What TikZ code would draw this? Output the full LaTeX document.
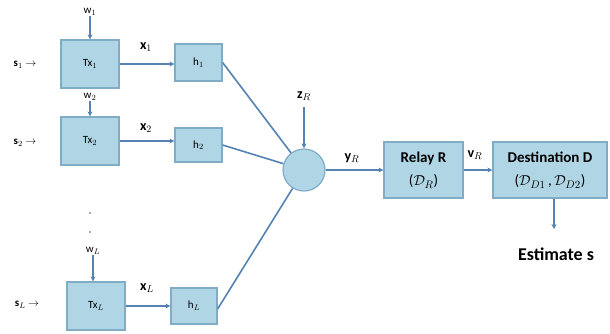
\documentclass[tikz,border=0pt]{standalone}
\usepackage{fontspec}
\setmainfont{Carlito}
\usetikzlibrary{arrows.meta}
\definecolor{boxfill}{RGB}{176,214,230}
\definecolor{boxedge}{RGB}{128,172,198}
\definecolor{wire}{RGB}{84,130,178}
\begin{document}
\begin{tikzpicture}[x=1pt,y=-1pt,
  blk/.style={draw=boxedge,fill=boxfill,line width=1.2pt,inner sep=0pt,font=\fontsize{11}{12}\selectfont},
  sumnode/.style={draw=boxedge,fill=boxfill,circle,line width=1.2pt,minimum size=42pt,inner sep=0pt},
  wireline/.style={draw=wire,line width=1.6pt},
  arr/.style={wireline,-{Stealth[length=5pt,width=5pt]}},
  lbl/.style={font=\fontsize{11}{12}\selectfont,inner sep=0pt},
  siglbl/.style={font=\fontsize{14}{15}\selectfont,inner sep=0pt},
  inlbl/.style={font=\fontsize{11}{12}\selectfont,inner sep=0pt}]
\useasboundingbox (0,0) rectangle (610,333);

% transmitters and channels
\node[blk,minimum width=58pt,minimum height=48pt] (tx1) at (90,64) {Tx$_1$};
\node[blk,minimum width=47pt,minimum height=37pt] (h1) at (198.5,62.5) {h$_1$};
\node[blk,minimum width=58pt,minimum height=48pt] (tx2) at (90,141) {Tx$_2$};
\node[blk,minimum width=47pt,minimum height=34pt] (h2) at (198.5,145) {h$_2$};
\node[blk,minimum width=58pt,minimum height=48pt] (txl) at (96,306) {Tx$_L$};
\node[blk,minimum width=46pt,minimum height=36pt] (hl) at (194,306) {h$_L$};

% inputs
\node[inlbl] (s1) at (25,65) {\textbf{s}$_1$ $\rightarrow$};
\node[inlbl] (s2) at (25,143) {\textbf{s}$_2$ $\rightarrow$};
\node[inlbl] (sl) at (27,305) {\textbf{s}$_L$ $\rightarrow$};

% noise terms
\node[lbl] (w1) at (90,12) {w$_1$};
\node[lbl] (w2) at (90,97) {w$_2$};
\node[lbl] (wl) at (93,251) {w$_L$};
\draw[arr] (w1.south) -- (tx1.north -| w1.south);
\draw[arr] (w2.south) -- (tx2.north -| w2.south);
\draw[arr] (wl.south) -- (txl.north -| wl.south);

% vertical dots
\node[circle,fill=black!45,inner sep=0.8pt] (d1) at (90,213) {};
\node[circle,fill=black!45,inner sep=0.8pt] (d2) at (90,232) {};

% transmitted signals
\draw[arr] (tx1.east) -- (h1.west |- tx1.east);
\node[siglbl] (x1) at (146,47) {$\mathbf{x}_1$};
\draw[arr] (tx2.east) -- (h2.west |- tx2.east);
\node[siglbl] (x2) at (146,128) {$\mathbf{x}_2$};
\draw[arr] (txl.east) -- (hl.west |- txl.east);
\node[siglbl] (xl) at (147,288) {$\mathbf{x}_L$};

% superposition at the relay
\node[sumnode] (sum) at (304,170) {};
\draw[wireline] (h1.east) -- (sum);
\draw[wireline] (h2.east) -- (sum);
\draw[wireline] ([yshift=-3pt]hl.east) -- (sum);
\node[siglbl] (zr) at (304,96) {$\mathbf{z}_R$};
\draw[arr] ([yshift=-6pt]zr.south) -- (sum.north);

% relay and destination
\node[blk,minimum width=79pt,minimum height=56pt,align=center,font=\fontsize{15}{23}\selectfont] (relay) at (423.5,170) {\textbf{Relay R}\\($\mathcal{D}_R$)};
\node[blk,minimum width=114pt,minimum height=56pt,align=center,font=\fontsize{15}{23}\selectfont] (dest) at (550,170) {\textbf{Destination D}\\($\mathcal{D}_{D1}$\,,\,$\mathcal{D}_{D2}$)};
\draw[arr] (sum.east) -- (relay.west);
\node[siglbl] (yr) at (352,158) {$\mathbf{y}_R$};
\draw[arr] (relay.east) -- (dest.west);
\node[siglbl] (vr) at (475,155) {$\mathbf{v}_R$};

\node[font=\fontsize{18}{20}\selectfont\bfseries,inner sep=0pt] (est) at (556,254) {Estimate s};
\draw[arr] (dest.south -| 554,0) -- (554,229);
\end{tikzpicture}
\end{document}
